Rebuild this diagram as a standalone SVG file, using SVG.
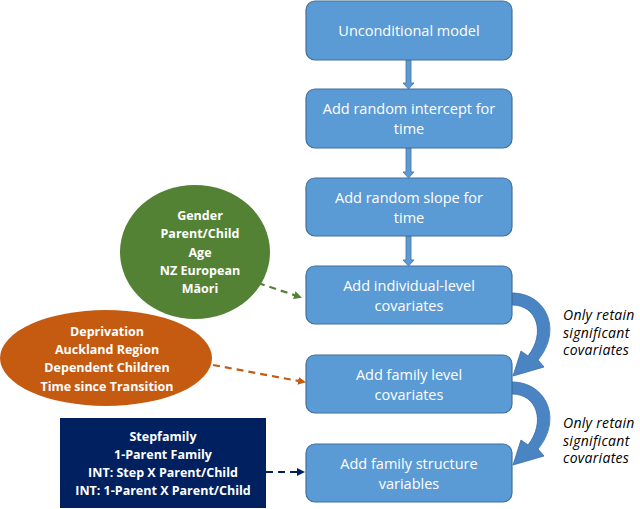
<svg xmlns="http://www.w3.org/2000/svg" width="640" height="509" viewBox="0 0 640 509">
<defs>
<style>
.box{fill:#5b9bd5;stroke:#41719c;stroke-width:1.2}
.bt{font-family:"Open Sans","Liberation Sans",sans-serif;font-size:14.5px;fill:#fff;text-anchor:middle}
.lt{font-family:"Open Sans","Liberation Sans",sans-serif;font-size:12.5px;font-weight:bold;fill:#fff;text-anchor:middle}
.it{font-family:"Open Sans","Liberation Sans",sans-serif;font-size:14px;font-style:italic;fill:#000;letter-spacing:0.3px}
.vc{fill:#5b9bd5;stroke:#41719c;stroke-width:0.8}
.curve{fill:#4a84c2;stroke:#3a6ea5;stroke-width:0.8}
.dash{fill:none;stroke-width:2.2;stroke-dasharray:7,5}
</style>
<marker id="mg" markerWidth="8" markerHeight="8" refX="6" refY="4" orient="auto" markerUnits="userSpaceOnUse"><path d="M0,0 L8,4 L0,8 Z" fill="#548235"/></marker>
<marker id="mo" markerWidth="8" markerHeight="8" refX="6" refY="4" orient="auto" markerUnits="userSpaceOnUse"><path d="M0,0 L8,4 L0,8 Z" fill="#c55a11"/></marker>
<marker id="mn" markerWidth="8" markerHeight="8" refX="6" refY="4" orient="auto" markerUnits="userSpaceOnUse"><path d="M0,0 L8,4 L0,8 Z" fill="#002060"/></marker>
</defs>
<rect width="640" height="509" fill="#fff"/>
<g id="connectors">
<path class="vc" d="M406,60 H411 V83 H414 L408.5,89 L403,83 H406 Z"/>
<path class="vc" d="M406,148 H411 V172 H414 L408.5,178 L403,172 H406 Z"/>
<path class="vc" d="M406,236 H411 V260 H414 L408.5,266 L403,260 H406 Z"/>
<path class="curve" d="M512,293 C546,293 563,330 538,360 L544,367 L513,376 L521,351 L528,356 C546,333 537,305 512,305 Z"/>
<path class="curve" d="M512,382 C546,382 563,419 538,449 L544,456 L513,465 L521,440 L528,445 C546,422 537,394 512,394 Z"/>
<path class="dash" stroke="#548235" d="M258,283 L300,297" marker-end="url(#mg)"/>
<path class="dash" stroke="#c55a11" d="M213,365 L304,382" marker-end="url(#mo)"/>
<path class="dash" stroke="#002060" d="M266,472 L303,472" marker-end="url(#mn)"/>
</g>
<g id="n1"><rect class="box" x="306" y="1" width="206" height="59" rx="9"/><text class="bt" x="409" y="36">Unconditional model</text></g>
<g id="n2"><rect class="box" x="306" y="89" width="206" height="59" rx="9"/><text class="bt" x="409" y="114">Add random intercept for</text><text class="bt" x="409" y="134">time</text></g>
<g id="n3"><rect class="box" x="306" y="178" width="206" height="58" rx="9"/><text class="bt" x="409" y="203">Add random slope for</text><text class="bt" x="409" y="223">time</text></g>
<g id="n4"><rect class="box" x="306" y="266" width="206" height="58" rx="9"/><text class="bt" x="409" y="291">Add individual-level</text><text class="bt" x="409" y="311">covariates</text></g>
<g id="n5"><rect class="box" x="306" y="355" width="206" height="58" rx="9"/><text class="bt" x="409" y="380">Add family level</text><text class="bt" x="409" y="400">covariates</text></g>
<g id="n6"><rect class="box" x="306" y="444" width="206" height="58" rx="9"/><text class="bt" x="409" y="469">Add family structure</text><text class="bt" x="409" y="489">variables</text></g>
<g id="green"><ellipse cx="195" cy="252" rx="75" ry="67" fill="#548235"/>
<text class="lt" x="200" y="220">Gender</text><text class="lt" x="200" y="238">Parent/Child</text><text class="lt" x="200" y="257">Age</text><text class="lt" x="200" y="275">NZ European</text><text class="lt" x="200" y="293">Māori</text></g>
<g id="orange"><ellipse cx="106" cy="358" rx="106" ry="48" fill="#c55a11"/>
<text class="lt" x="107" y="336">Deprivation</text><text class="lt" x="107" y="354">Auckland Region</text><text class="lt" x="107" y="372">Dependent Children</text><text class="lt" x="107" y="391">Time since Transition</text></g>
<g id="navy"><rect x="60" y="418" width="206" height="90" fill="#002060"/>
<text class="lt" x="163" y="441">Stepfamily</text><text class="lt" x="163" y="459">1-Parent Family</text><text class="lt" x="163" y="477">INT: Step X Parent/Child</text><text class="lt" x="163" y="495">INT: 1-Parent X Parent/Child</text></g>
<g id="note1"><text class="it" x="563" y="320">Only retain</text><text class="it" x="563" y="337.5">significant</text><text class="it" x="563" y="355">covariates</text></g>
<g id="note2"><text class="it" x="563" y="428">Only retain</text><text class="it" x="563" y="445.5">significant</text><text class="it" x="563" y="463">covariates</text></g>
</svg>
